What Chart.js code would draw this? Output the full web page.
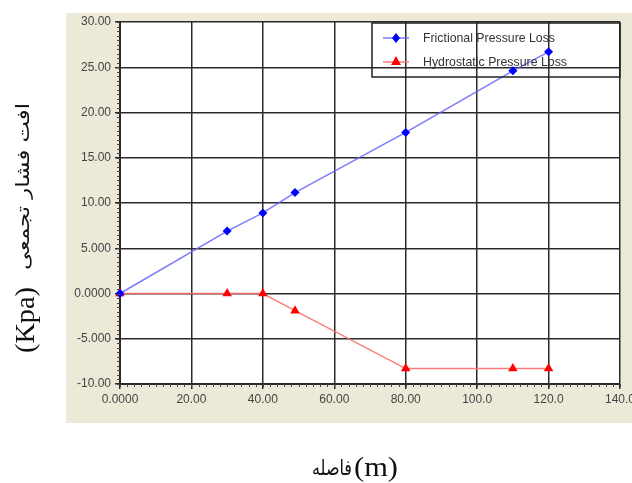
<!DOCTYPE html>
<html>
<head>
<meta charset="utf-8">
<script src="https://cdn.jsdelivr.net/npm/chart.js@4/dist/chart.umd.min.js"></script>
<style>
html,body{margin:0;padding:0;background:#fff;}
#wrap{width:632px;height:483px;}
</style>
</head>
<body>
<div id="wrap"><canvas id="c" width="632" height="483"></canvas></div>
<script>
const xDistances = [0, 30, 40, 49, 80, 110, 120];
const frictional = [0, 6.9, 8.9, 11.15, 17.8, 24.6, 26.7];
const hydrostatic = [0, 0, 0, -1.9, -8.3, -8.3, -8.3];
const xTickValues = [0, 20, 40, 60, 80, 100, 120, 140];
const xTickLabels = ["0.0000", "20.00", "40.00", "60.00", "80.00", "100.0", "120.0", "140.0"];
const yTickValues = [-10, -5, 0, 5, 10, 15, 20, 25, 30];
const yTickLabels = ["-10.00", "-5.000", "0.0000", "5.000", "10.00", "15.00", "20.00", "25.00", "30.00"];
const seriesNames = ["Frictional Pressure Loss", "Hydrostatic Pressure Loss"];
const xTitleAr = "فاصله";
const xTitleUnit = "(m)";
const yTitleAr = "افت فشار تجمعی";
const yTitleUnit = "(Kpa)";

const toPts = (ys) => xDistances.map((x, i) => ({x: x, y: ys[i]}));

function fitText(ctx, text, font, x, y, targetW, sy) {
  ctx.font = font;
  const w = ctx.measureText(text).width;
  ctx.save();
  ctx.translate(x, y);
  ctx.scale(targetW / w, sy || 1);
  ctx.fillText(text, 0, 0);
  ctx.restore();
}

const bgPlugin = {
  id: 'bg',
  beforeDraw(chart) {
    const ctx = chart.ctx, a = chart.chartArea;
    ctx.save();
    ctx.fillStyle = '#ffffff';
    ctx.fillRect(0, 0, chart.width, chart.height);
    ctx.fillStyle = '#ece9d8';
    ctx.fillRect(66, 13, chart.width - 66, 410);
    ctx.fillStyle = '#ffffff';
    ctx.fillRect(a.left, a.top, a.right - a.left, a.bottom - a.top);
    ctx.restore();
  }
};

const decoPlugin = {
  id: 'deco',
  afterDraw(chart) {
    const ctx = chart.ctx, a = chart.chartArea;
    const xs = chart.scales.x, ys = chart.scales.y;
    ctx.save();
    // minor ticks
    ctx.strokeStyle = '#444';
    ctx.lineWidth = 1;
    ctx.beginPath();
    for (let v = 0; v <= 140; v += 2) {
      const px = Math.round(xs.getPixelForValue(v)) + 0.5;
      ctx.moveTo(px, a.bottom); ctx.lineTo(px, a.bottom + 3);
    }
    for (let v = -10; v <= 30; v += 0.5) {
      const py = Math.round(ys.getPixelForValue(v)) + 0.5;
      ctx.moveTo(a.left - 3, py); ctx.lineTo(a.left, py);
    }
    ctx.stroke();

    // legend box
    const lx = 372, ly = 23, lw = 248, lh = 54;
    ctx.strokeStyle = '#222';
    ctx.lineWidth = 1.5;
    ctx.strokeRect(lx, ly, lw, lh);
    const ds = chart.data.datasets;
    const rows = [38, 62];
    const targetW = [132, 144];
    rows.forEach((ry, i) => {
      const d = ds[i];
      ctx.strokeStyle = d.borderColor;
      ctx.lineWidth = 1.5;
      ctx.beginPath(); ctx.moveTo(383, ry); ctx.lineTo(409, ry); ctx.stroke();
      ctx.fillStyle = d.pointBackgroundColor;
      ctx.beginPath();
      if (i === 0) {
        ctx.moveTo(396, ry - 5); ctx.lineTo(400, ry); ctx.lineTo(396, ry + 5); ctx.lineTo(392, ry);
      } else {
        ctx.moveTo(396, ry - 6); ctx.lineTo(401, ry + 3); ctx.lineTo(391, ry + 3);
      }
      ctx.closePath(); ctx.fill();
      ctx.fillStyle = '#333';
      ctx.textBaseline = 'middle';
      ctx.textAlign = 'left';
      fitText(ctx, seriesNames[i], "12px 'Liberation Sans', Arial, sans-serif", 423, ry, targetW[i], 1.1);
    });

    ctx.fillStyle = '#111';
    ctx.textBaseline = 'alphabetic';
    ctx.textAlign = 'left';

    // x title
    fitText(ctx, xTitleAr, "21px 'DejaVu Sans', sans-serif", 312, 475, 40, 1);
    fitText(ctx, xTitleUnit, "27px 'Liberation Serif', 'DejaVu Serif', serif", 354, 476, 44, 1);

    // y title (rotated)
    ctx.save();
    ctx.translate(34, 353);
    ctx.rotate(-Math.PI / 2);
    fitText(ctx, yTitleUnit, "27px 'Liberation Serif', 'DejaVu Serif', serif", 0, 0, 66, 1);
    fitText(ctx, yTitleAr, "18px 'DejaVu Sans', sans-serif", 83, -5, 167, 1);
    ctx.restore();
    ctx.restore();
  }
};

new Chart(document.getElementById('c'), {
  type: 'line',
  data: {
    datasets: [
      {
        label: seriesNames[0],
        data: toPts(frictional),
        borderColor: 'rgba(100,100,255,0.85)',
        borderWidth: 1.5,
        pointStyle: 'rectRot',
        pointRadius: 4.5,
        pointBackgroundColor: '#0000ff',
        pointBorderColor: '#0000ff',
        pointBorderWidth: 0,
        tension: 0
      },
      {
        label: seriesNames[1],
        data: toPts(hydrostatic),
        borderColor: 'rgba(255,110,110,0.9)',
        borderWidth: 1.5,
        pointStyle: 'triangle',
        pointRadius: 5.5,
        pointBackgroundColor: '#ff0000',
        pointBorderColor: '#ff0000',
        pointBorderWidth: 0,
        tension: 0
      }
    ]
  },
  options: {
    responsive: false,
    animation: false,
    clip: false,
    layout: { padding: { left: 0, top: 22, right: 12, bottom: 59 } },
    plugins: { legend: { display: false }, tooltip: { enabled: false }, title: { display: false } },
    scales: {
      x: {
        type: 'linear', min: 0, max: 140,
        afterBuildTicks(s) { s.ticks = xTickValues.map(v => ({value: v})); },
        ticks: {
          autoSkip: false, maxRotation: 0, minRotation: 0, padding: 3,
          color: '#444', font: { family: "'Liberation Sans', Arial, sans-serif", size: 12 },
          callback(v) { const i = xTickValues.indexOf(v); return i >= 0 ? xTickLabels[i] : ''; }
        },
        grid: { color: '#2a2a2a', lineWidth: 1.5, tickLength: 5, tickColor: '#2a2a2a' },
        border: { color: '#2a2a2a', width: 2 },
        afterFit(s) { s.height = 40; s.paddingLeft = 0; s.paddingRight = 0; }
      },
      y: {
        type: 'linear', min: -10, max: 30,
        afterBuildTicks(s) { s.ticks = yTickValues.map(v => ({value: v})); },
        ticks: {
          autoSkip: false, padding: 4,
          color: '#444', font: { family: "'Liberation Sans', Arial, sans-serif", size: 12 },
          callback(v) { const i = yTickValues.indexOf(v); return i >= 0 ? yTickLabels[i] : ''; }
        },
        grid: { color: '#2a2a2a', lineWidth: 1.5, tickLength: 5, tickColor: '#2a2a2a' },
        border: { color: '#2a2a2a', width: 2 },
        afterFit(s) { s.width = 120; s.paddingTop = 0; s.paddingBottom = 0; }
      }
    }
  },
  plugins: [bgPlugin, decoPlugin]
});
</script>
</body>
</html>
